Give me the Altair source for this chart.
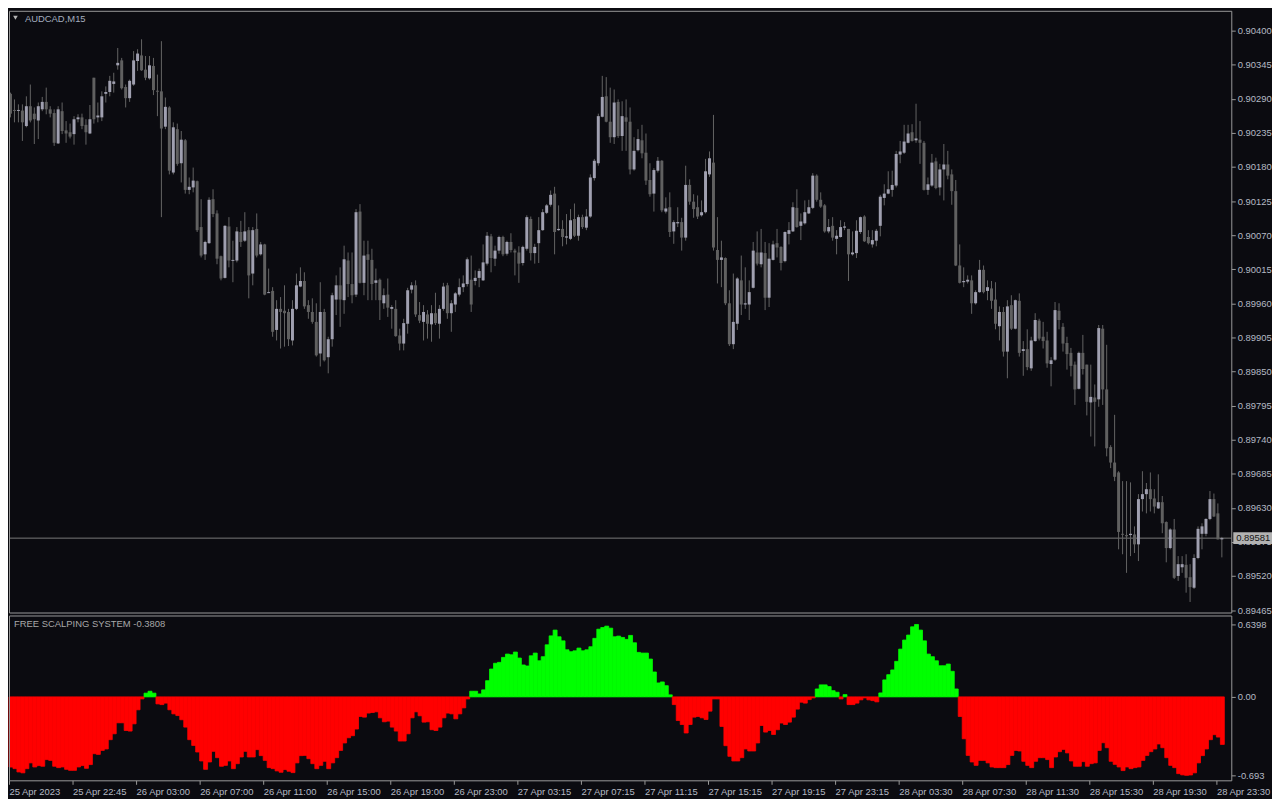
import json
import altair as alt
import pandas as pd

# ---------------- data (prices in points above 0.89000) ----------------
open_pts = [1298,1272,1271,1271,1246,1278,1266,1255,1273,1285,1273,1267,1218,1270,1239,1236,1233,1257,1260,1248,
1234,1324,1260,1260,1298,1301,1314,1344,1352,1309,1291,1313,1351,1360,1337,1323,1343,1303,1302,1245,
1276,1171,1241,1186,1223,1143,1147,1157,1083,1039,1057,1128,1105,1036,1001,1084,1029,1029,1075,1061,
1078,1008,1080,1039,1055,978,980,917,951,948,946,900,951,987,996,957,946,930,879,946,
873,902,966,989,965,1029,991,974,1108,993,1039,1030,993,998,960,974,951,951,908,895,
927,982,989,941,930,942,926,944,927,951,989,944,958,974,986,991,998,996,1001,997,
1024,1068,1032,1045,1067,1040,1059,1045,1042,1025,1048,1096,1041,1057,1078,1106,1119,1137,1078,1080,
1066,1064,1096,1069,1099,1082,1100,1162,1186,1261,1294,1253,1228,1285,1230,1260,1253,1176,1207,1223,
1203,1159,1137,1174,1190,1108,1115,1076,1089,1091,1066,1151,1124,1115,1102,1107,1168,1187,1046,1030,
1033,960,894,927,997,958,958,985,1042,1023,1041,969,1030,1057,1051,1028,1072,1076,1114,1085,
1089,1105,1114,1166,1127,1118,1076,1085,1064,1067,1082,1080,1039,1041,1075,1100,1067,1055,1061,1085,
1130,1137,1143,1150,1200,1203,1219,1236,1223,1224,1219,1143,1150,1189,1147,1176,1184,1168,1141,1021,
994,995,997,960,978,1014,980,984,966,923,946,882,957,919,964,883,886,855,899,932,
906,900,862,869,948,922,896,880,861,822,880,861,800,808,805,919,821,728,703,687,
588,586,586,587,571,644,652,660,645,629,639,607,565,595,520,534,538,518,501,549,
588,588,612,644,621,579]

high_pts = [1300,1289,1281,1281,1294,1313,1276,1284,1293,1308,1278,1273,1278,1284,1254,1250,1262,1265,1266,1257,
1280,1324,1284,1302,1310,1327,1332,1372,1356,1313,1321,1367,1370,1386,1359,1359,1356,1329,1383,1292,
1278,1252,1250,1238,1225,1163,1179,1158,1128,1061,1131,1144,1110,1037,1086,1099,1061,1083,1093,1107,
1083,1083,1105,1059,1056,1016,986,965,970,989,951,965,1008,1018,1010,965,968,960,994,951,
906,977,1005,1018,1053,1042,1042,1112,1120,1061,1061,1048,1016,1000,984,1000,957,965,919,935,
985,994,997,962,957,949,957,977,957,993,993,965,978,1000,1005,1034,1037,1013,1016,1055,
1075,1072,1053,1069,1069,1061,1073,1048,1052,1053,1102,1100,1056,1099,1112,1120,1142,1148,1118,1094,
1104,1112,1121,1103,1103,1112,1168,1193,1266,1327,1325,1308,1305,1289,1286,1289,1276,1228,1241,1248,
1234,1186,1178,1196,1191,1131,1139,1094,1115,1098,1182,1160,1136,1134,1126,1193,1205,1264,1099,1061,
1034,981,1008,1002,1037,1018,997,1059,1076,1080,1059,1057,1061,1080,1052,1076,1091,1123,1144,1105,
1126,1127,1170,1168,1139,1120,1096,1099,1078,1094,1091,1080,1076,1094,1100,1102,1078,1078,1080,1135,
1152,1173,1174,1206,1222,1248,1248,1249,1282,1254,1222,1163,1201,1195,1185,1217,1206,1176,1159,1055,
1018,1005,1005,981,1030,1021,997,996,994,955,954,965,973,966,976,899,918,906,944,935,
930,914,873,962,960,928,906,888,866,882,909,861,861,829,925,925,893,731,780,689,
673,673,671,600,652,689,670,687,660,684,649,608,597,612,552,552,555,539,555,600,
605,613,657,653,637,583]

low_pts = [1260,1252,1252,1222,1244,1252,1217,1225,1270,1265,1260,1214,1217,1233,1219,1226,1216,1252,1241,1216,
1233,1250,1252,1254,1284,1294,1300,1337,1305,1276,1285,1311,1335,1335,1320,1321,1296,1262,1099,1241,
1168,1168,1182,1155,1137,1136,1139,1075,1034,1030,1056,1099,1023,997,1000,1018,994,1026,1051,1059,
968,989,1034,1037,973,977,906,900,887,890,891,892,949,986,951,935,927,874,858,866,
847,890,941,922,943,970,960,970,992,973,965,965,965,933,951,938,919,906,884,884,
911,976,938,928,900,903,898,925,903,948,935,914,946,971,978,987,946,989,986,996,
1021,1010,1020,1040,1036,1037,1042,1005,993,1021,1045,1029,1024,1025,1077,1104,1116,1039,1077,1052,
1055,1062,1067,1061,1080,1078,1098,1158,1182,1260,1252,1219,1217,1227,1206,1206,1168,1174,1205,1194,
1151,1132,1108,1171,1107,1105,1067,1056,1083,1045,1061,1119,1098,1096,1100,1105,1164,1045,992,986,
957,891,886,917,941,951,933,984,1021,1018,949,954,1029,1034,1013,1026,1055,1075,1082,1062,
1087,1104,1112,1124,1114,1074,1073,1061,1039,1066,1078,996,1037,1033,1072,1059,1055,1050,1052,1068,
1118,1136,1132,1147,1186,1201,1218,1221,1219,1185,1142,1135,1148,1144,1134,1126,1160,1119,1020,992,
986,992,943,958,977,976,965,951,918,900,874,839,917,918,874,843,852,851,898,900,
887,856,826,867,918,882,853,842,796,821,845,779,745,729,793,796,713,694,673,563,
555,525,552,557,544,624,621,624,621,628,589,542,563,515,512,525,493,478,499,547,
563,584,610,615,579,550]

close_pts = [1266,1271,1272,1252,1278,1255,1257,1278,1285,1273,1266,1219,1273,1238,1234,1229,1257,1260,1246,1236,
1257,1257,1263,1294,1301,1319,1318,1348,1307,1291,1319,1352,1363,1336,1324,1344,1304,1302,1242,1277,
1174,1244,1185,1224,1143,1148,1158,1078,1037,1059,1127,1104,1032,1000,1085,1029,1030,1076,1059,1076,
1005,1078,1037,1055,974,978,914,951,946,944,902,951,989,996,955,946,930,876,946,868,
902,973,989,966,1031,991,973,1107,993,1037,1030,991,997,965,973,953,954,907,895,928,
981,989,942,932,946,927,944,928,951,987,944,960,976,986,992,1031,958,1001,1012,1026,
1069,1033,1045,1067,1039,1059,1046,1042,1024,1051,1099,1041,1051,1078,1107,1118,1135,1075,1080,1067,
1068,1094,1069,1099,1083,1100,1163,1190,1262,1293,1253,1228,1284,1230,1262,1253,1176,1206,1225,1202,
1158,1136,1175,1190,1110,1113,1075,1091,1091,1066,1151,1124,1112,1100,1107,1173,1194,1050,1030,1034,
960,894,930,1000,958,960,978,1045,1024,1042,969,1032,1055,1050,1025,1075,1078,1115,1083,1092,
1107,1115,1166,1127,1116,1076,1083,1066,1069,1083,1084,1039,1042,1077,1099,1060,1057,1062,1077,1132,
1137,1144,1151,1201,1205,1221,1234,1222,1226,1219,1143,1152,1187,1146,1176,1184,1166,1141,1021,993,
996,998,960,978,1014,978,986,964,927,946,882,955,919,965,880,886,857,900,933,903,
899,863,868,949,933,895,878,859,821,880,854,801,809,801,920,821,726,703,680,591,
587,584,588,571,644,652,660,644,632,639,605,565,595,517,539,539,517,502,549,596,
600,612,644,616,579,581]

hist_values = [
-0.620,-0.634,-0.663,-0.671,-0.634,-0.583,-0.619,-0.607,-0.613,-0.554,-0.561,-0.613,-0.625,-0.619,-0.640,-0.649,-0.649,-0.619,-0.607,-0.631,
-0.598,-0.502,-0.508,-0.473,-0.460,-0.378,-0.326,-0.229,-0.229,-0.297,-0.302,-0.238,-0.114,-0.018,
0.033,0.050,0.033,
-0.062,-0.068,-0.055,-0.114,-0.150,-0.165,-0.202,-0.267,-0.378,-0.429,-0.487,-0.566,-0.640,-0.575,-0.481,-0.537,-0.613,-0.605,-0.566,-0.634,
-0.590,-0.531,-0.481,-0.531,-0.531,-0.466,-0.519,-0.561,-0.625,-0.634,-0.654,-0.666,-0.642,-0.657,-0.669,-0.583,-0.519,-0.517,-0.546,-0.590,
-0.634,-0.605,-0.569,-0.634,-0.583,-0.537,-0.473,-0.407,-0.361,-0.343,-0.284,-0.173,-0.179,-0.143,-0.138,-0.132,-0.185,-0.220,-0.214,-0.267,
-0.302,-0.390,-0.390,-0.326,-0.185,-0.132,-0.167,-0.223,
-0.220,-0.290,-0.297,-0.267,-0.185,-0.143,-0.150,-0.194,-0.150,-0.097,-0.018,
0.050,0.050,0.026,0.062,0.143,0.246,0.297,0.305,0.349,0.378,0.372,0.396,0.343,0.282,0.273,0.363,0.387,0.319,0.355,0.460,
0.539,0.590,0.531,0.495,0.416,0.399,0.407,0.431,0.407,0.416,0.443,0.517,0.598,0.613,0.625,0.607,0.531,0.537,0.525,0.508,
0.543,0.478,0.393,0.387,0.387,0.334,0.220,0.123,0.132,0.099,0.018,
-0.068,-0.209,-0.244,-0.319,-0.244,-0.179,-0.173,-0.185,-0.200,-0.126,-0.018,-0.018,-0.261,-0.431,-0.525,-0.566,-0.566,-0.537,-0.460,-0.478,
-0.478,-0.407,-0.253,-0.311,-0.297,-0.332,-0.290,-0.231,-0.244,-0.223,-0.179,-0.108,-0.047,-0.055,-0.024,-0.009,
0.070,0.106,0.106,0.091,0.055,0.041,
-0.018,
0.020,
-0.068,-0.068,-0.055,-0.026,-0.009,-0.026,-0.033,-0.044,
0.035,0.150,0.196,0.238,0.314,0.422,0.502,0.546,0.619,0.6398,0.590,0.495,0.378,0.355,0.319,0.275,0.275,0.290,0.226,0.070,
-0.173,-0.370,-0.517,-0.575,-0.605,-0.561,-0.561,-0.583,-0.619,-0.625,-0.625,-0.625,-0.598,-0.517,-0.473,-0.478,-0.569,-0.605,-0.625,-0.569,
-0.537,-0.537,-0.554,-0.625,-0.531,-0.484,-0.464,-0.495,-0.566,-0.613,-0.613,-0.572,-0.613,-0.590,-0.583,-0.473,-0.405,-0.449,-0.569,-0.596,
-0.619,-0.651,-0.619,-0.634,-0.625,-0.619,-0.561,-0.517,-0.484,-0.460,-0.416,-0.449,-0.537,-0.605,-0.625,-0.678,-0.689,-0.693,-0.690,-0.671,
-0.583,-0.519,-0.460,-0.378,-0.334,-0.355,-0.420]

x_tick_labels = ["25 Apr 2023", "25 Apr 22:45", "26 Apr 03:00", "26 Apr 07:00", "26 Apr 11:00",
                 "26 Apr 15:00", "26 Apr 19:00", "26 Apr 23:00", "27 Apr 03:15", "27 Apr 07:15",
                 "27 Apr 11:15", "27 Apr 15:15", "27 Apr 19:15", "27 Apr 23:15", "28 Apr 03:30",
                 "28 Apr 07:30", "28 Apr 11:30", "28 Apr 15:30", "28 Apr 19:30", "28 Apr 23:30"]
x_tick_bars = [0, 16, 32, 48, 64, 80, 96, 112, 128, 144, 160, 176, 192, 208, 224, 240, 256, 272, 288, 304]

price_ticks = [0.90400, 0.90345, 0.90290, 0.90235, 0.90180, 0.90125, 0.90070, 0.90015, 0.89960,
               0.89905, 0.89850, 0.89795, 0.89740, 0.89685, 0.89630, 0.89575, 0.89520, 0.89465]
sub_ticks = [0.6398, 0.0, -0.693]
sub_tick_labels = ["0.6398", "0.00", "-0.693"]

symbol = "AUDCAD,M15"
indicator_name = "FREE SCALPING SYSTEM"
indicator_value = -0.3808
last_price = 0.89581

# ---------------- styling ----------------
BG = "#0b0b10"
FRAME = "#9a9a9a"
LABEL = "#b4b9c4"
BULL = "#a0a0b0"
BEAR = "#606060"
WICK = "#646464"
UP = "#00ff00"
DOWN = "#ff0000"
FONT = "Liberation Sans"
FS = 9.5
W = 1231
H_MAIN = 606
H_SUB = 166

BASE = 0.89
df = pd.DataFrame({
    "idx": list(range(len(close_pts))),
    "o": [BASE + v / 1e5 for v in open_pts],
    "h": [BASE + v / 1e5 for v in high_pts],
    "l": [BASE + v / 1e5 for v in low_pts],
    "c": [BASE + v / 1e5 for v in close_pts],
})
df["xw"] = df["idx"] + 0.375
df["xb2"] = df["idx"] + 0.75
df["top"] = df[["o", "c"]].max(axis=1)
df["bot"] = df[["o", "c"]].min(axis=1)
thin = (df["top"] - df["bot"]) < 1.6e-5
df.loc[thin, "bot"] = df.loc[thin, "top"] - 1.6e-5

hd = pd.DataFrame({"idx": list(range(len(hist_values))), "v": hist_values})
hd["x2"] = hd["idx"] + 1
hd["zero"] = 0.0

xscale = alt.Scale(domain=[0, W / 4], nice=False, zero=False)
pscale = alt.Scale(domain=[0.89461, 0.90432], nice=False, zero=False)
hscale = alt.Scale(domain=[-0.737, 0.719], nice=False, zero=False)

price_axis = alt.Axis(orient="right", values=price_ticks, format=".5f", title=None, domain=False,
                      tickSize=4, labelPadding=2, grid=False, labelOverlap=False, labelBound=False)

sub_expr = "".join(
    f"abs(datum.value - ({t})) < 1e-6 ? '{lab}' : " for t, lab in zip(sub_ticks, sub_tick_labels)
) + "''"
sub_axis = alt.Axis(orient="right", values=sub_ticks, labelExpr=sub_expr, title=None, domain=False,
                    tickSize=4, labelPadding=2, grid=False, labelOverlap=False)

x_expr = f"{json.dumps(x_tick_labels)}[indexof({json.dumps(x_tick_bars)}, datum.value)]"
x_axis = alt.Axis(orient="bottom", values=x_tick_bars, labelExpr=x_expr, title=None, domain=False,
                  tickSize=4, labelPadding=2, labelAlign="left", labelBaseline="top",
                  labelFlush=False, labelOverlap=False, grid=False)


def frame(height):
    """Panel border drawn with rules kept inside the panel's own box."""
    one = pd.DataFrame({"k": [0]})
    c = alt.Chart(one)
    left = c.mark_rule(color=FRAME, strokeWidth=1).encode(
        x=alt.value(0.5), y=alt.value(0.5), y2=alt.value(height + 0.5))
    right = c.mark_rule(color=FRAME, strokeWidth=1).encode(
        x=alt.value(W + 0.5), y=alt.value(0.5), y2=alt.value(height + 0.5))
    top = c.mark_rule(color=FRAME, strokeWidth=1).encode(
        y=alt.value(0.5), x=alt.value(0.5), x2=alt.value(W + 0.5))
    bottom = c.mark_rule(color=FRAME, strokeWidth=1).encode(
        y=alt.value(height + 0.5), x=alt.value(0.5), x2=alt.value(W + 0.5))
    return [left, right, top, bottom]


# ---------------- main candle panel ----------------
base = alt.Chart(df)
wicks = base.mark_rule(color=WICK, strokeWidth=1).encode(
    x=alt.X("xw:Q", scale=xscale, axis=None),
    y=alt.Y("l:Q", scale=pscale, axis=price_axis),
    y2="h:Q",
)
bodies = base.mark_rect().encode(
    x=alt.X("idx:Q", scale=xscale, axis=None),
    x2="xb2:Q",
    y=alt.Y("top:Q", scale=pscale, axis=price_axis),
    y2="bot:Q",
    color=alt.condition(alt.datum.c >= alt.datum.o, alt.value(BULL), alt.value(BEAR)),
)

lp = pd.DataFrame({"p": [last_price], "lbl": [f"{last_price:.5f}"]})
pline = alt.Chart(lp).mark_rule(color="#7a7a7a", strokeWidth=1).encode(
    y=alt.Y("p:Q", scale=pscale, axis=price_axis),
    x=alt.value(0), x2=alt.value(W),
)
pbox = alt.Chart(lp).mark_rect(color="#b2b2b2", yOffset=-6, y2Offset=6).encode(
    y=alt.Y("p:Q", scale=pscale, axis=price_axis), y2="p:Q",
    x=alt.value(W + 2), x2=alt.value(W + 41),
)
ptext = alt.Chart(lp).mark_text(align="left", baseline="middle", color="#151515",
                                font=FONT, fontSize=FS).encode(
    y=alt.Y("p:Q", scale=pscale, axis=price_axis),
    x=alt.value(W + 5), text="lbl:N",
)

tdf = pd.DataFrame({"t": [symbol]})
tri = alt.Chart(tdf).mark_point(shape="triangle-down", filled=True, size=22,
                                color="#b4b4b4", opacity=1).encode(
    x=alt.value(6.5), y=alt.value(7))
ttl = alt.Chart(tdf).mark_text(align="left", baseline="middle", color="#a3adbf",
                               font=FONT, fontSize=FS).encode(
    x=alt.value(16), y=alt.value(8), text="t:N")

main = alt.layer(pline, wicks, bodies, pbox, ptext, tri, ttl, *frame(H_MAIN)).properties(
    width=W, height=H_MAIN)

# ---------------- indicator panel ----------------
hist = alt.Chart(hd).mark_rect(strokeWidth=0.8).encode(
    x=alt.X("idx:Q", scale=xscale, axis=x_axis),
    x2="x2:Q",
    y=alt.Y("zero:Q", scale=hscale, axis=sub_axis),
    y2="v:Q",
    color=alt.condition(alt.datum.v >= 0, alt.value(UP), alt.value(DOWN)),
    stroke=alt.condition(alt.datum.v >= 0, alt.value(UP), alt.value(DOWN)),
)
sdf = pd.DataFrame({"t": [f"{indicator_name} {indicator_value:.4f}"]})
stitle = alt.Chart(sdf).mark_text(align="left", baseline="middle", color="#a8a8a8",
                                  font=FONT, fontSize=FS).encode(
    x=alt.value(5), y=alt.value(9), text="t:N")

sub = alt.layer(hist, stitle, *frame(H_SUB)).properties(width=W, height=H_SUB)

chart = (
    alt.vconcat(main, sub, spacing=3, bounds="flush")
    .resolve_scale(x="independent", y="independent")
    .properties(padding=0)
    .configure(background=BG, font=FONT)
    .configure_view(strokeWidth=0, fill=BG)
    .configure_axis(labelFont=FONT, labelFontSize=FS, labelColor=LABEL,
                    tickColor=FRAME, domainColor=FRAME, tickWidth=1, domainWidth=1)
)

chart.save("out.html", embed_options={"renderer": "svg", "actions": False})
